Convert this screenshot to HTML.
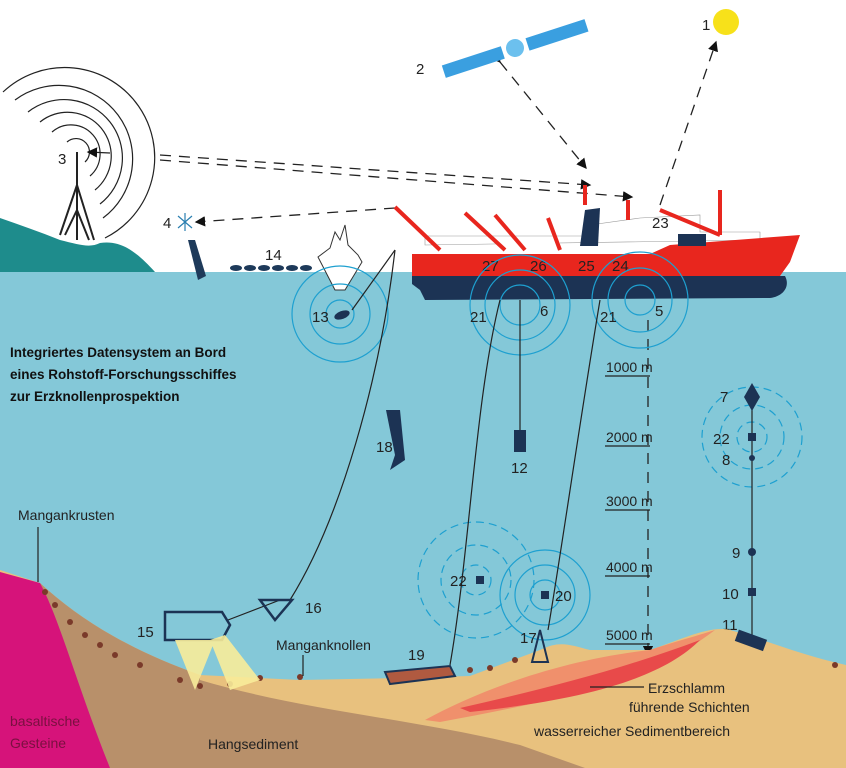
<!DOCTYPE html>
<html><head><meta charset="utf-8"><style>
html,body{margin:0;padding:0;background:#fff;}
svg{display:block;font-family:"Liberation Sans",sans-serif;}
</style></head><body>
<svg width="846" height="768" viewBox="0 0 846 768" xmlns="http://www.w3.org/2000/svg">
<defs>
<marker id="ah" markerWidth="8" markerHeight="8" refX="7" refY="4" orient="auto"><path d="M0,0 L8,4 L0,8 z" fill="#111"/></marker>
</defs>
<rect width="846" height="768" fill="#fff"/>
<rect x="0" y="272" width="846" height="496" fill="#84c8d8"/>
<path d="M0,218 C20,225 40,232 60,240 C80,245 90,248 100,243 C120,240 135,250 155,272 L0,272 Z" fill="#1e8c8c"/>
<g fill="none" stroke="#222" stroke-width="1.2">
<path d="M77,152 L77,240 M77,185 L60,235 M77,185 L94,240 M77,210 L65,235 M77,210 L89,240" stroke-width="2"/>
<path d="M67,142 A12,12 0 1 1 85,162"/>
<path d="M52,132 A27,27 0 1 1 90,176"/>
<path d="M40,122 A42,42 0 1 1 95,190"/>
<path d="M28,112 A57,57 0 1 1 100,204"/>
<path d="M15,100 A72,72 0 1 1 103,218"/>
<path d="M3,92 A90,90 0 1 1 105,238"/>
</g>
<text x="58" y="164" font-size="15" fill="#222">3</text>
<g stroke="#222" stroke-width="1.3" fill="none" stroke-dasharray="11,8">
<line x1="160" y1="155" x2="590" y2="185" marker-end="url(#ah)"/>
<line x1="160" y1="160" x2="632" y2="197" marker-end="url(#ah)"/>
<line x1="395" y1="208" x2="196" y2="222" marker-end="url(#ah)"/>
<line x1="660" y1="205" x2="716" y2="42" marker-end="url(#ah)"/>
<line x1="648" y1="320" x2="648" y2="655" marker-end="url(#ah)"/>
</g>
<line x1="500" y1="62" x2="586" y2="168" stroke="#222" stroke-width="1.3" stroke-dasharray="11,8" marker-end="url(#ah)" marker-start="url(#ah)"/>
<line x1="110" y1="153" x2="88" y2="152" stroke="#222" stroke-width="1.3" marker-end="url(#ah)"/>
<circle cx="726" cy="22" r="13" fill="#f7e11a"/>
<text x="702" y="30" font-size="15" fill="#222">1</text>
<g transform="rotate(-18 515 48)">
<rect x="440" y="42" width="62" height="13" fill="#3a9fe0"/>
<rect x="528" y="42" width="62" height="13" fill="#3a9fe0"/>
<circle cx="515" cy="48" r="9" fill="#6cc0ee"/>
</g>
<text x="416" y="74" font-size="15" fill="#222">2</text>
<text x="163" y="228" font-size="15" fill="#222">4</text>
<g stroke="#2a7fb0" stroke-width="1.2"><line x1="178" y1="216" x2="192" y2="228"/><line x1="192" y1="216" x2="178" y2="228"/><line x1="185" y1="213" x2="185" y2="231"/></g>
<path d="M188,240 L195,240 L206,276 L198,280 Z" fill="#1e3a5a"/>
<text x="265" y="260" font-size="15" fill="#222">14</text>
<g fill="#1e3a5a"><ellipse cx="236" cy="268" rx="6" ry="3"/><ellipse cx="250" cy="268" rx="6" ry="3"/><ellipse cx="264" cy="268" rx="6" ry="3"/><ellipse cx="278" cy="268" rx="6" ry="3"/><ellipse cx="292" cy="268" rx="6" ry="3"/><ellipse cx="306" cy="268" rx="6" ry="3"/></g>
<path d="M318,257 L330,248 L335,232 L340,240 L345,225 L348,245 L358,255 L362,262 L345,290 L335,290 Z" fill="#fff" stroke="#333" stroke-width="1"/>
<!-- ship -->
<path d="M425,236 L590,236 L590,225 L640,218 L700,215 L700,232 L760,232 L760,240 L425,245 Z" fill="#fff" stroke="#999" stroke-width="0.6"/>
<path d="M500,240 L560,238 L560,254 L500,254 Z" fill="#fff"/>
<path d="M412,254 L650,254 L670,245 L800,235 L790,262 L780,276 L412,276 Z" fill="#e8261e"/>
<path d="M412,276 L785,276 C790,285 785,296 770,298 L425,300 L420,290 L412,284 Z" fill="#1c3354"/>
<path d="M580,246 L585,210 L600,208 L598,246 Z" fill="#1c3354"/>
<rect x="678" y="234" width="28" height="12" fill="#1c3354"/>
<g stroke="#e8261e" stroke-width="4" fill="none">
<line x1="395" y1="207" x2="440" y2="250"/>
<line x1="465" y1="213" x2="505" y2="250"/>
<line x1="495" y1="215" x2="525" y2="250"/>
<line x1="548" y1="218" x2="560" y2="250"/>
<line x1="628" y1="200" x2="628" y2="220"/>
<line x1="720" y1="190" x2="720" y2="235"/>
<line x1="660" y1="210" x2="720" y2="235"/>
<line x1="585" y1="185" x2="585" y2="205"/>
</g>
<g font-size="15" fill="#222">
<text x="482" y="271">27</text><text x="530" y="271">26</text><text x="578" y="271">25</text><text x="612" y="271">24</text><text x="652" y="228">23</text>
</g>
<g fill="none" stroke="#1ea0d0" stroke-width="1.2">
<circle cx="340" cy="314" r="14"/><circle cx="340" cy="314" r="30"/><circle cx="340" cy="314" r="48"/>
<circle cx="520" cy="305" r="20"/><circle cx="520" cy="305" r="35"/><circle cx="520" cy="305" r="50"/>
<circle cx="640" cy="300" r="15"/><circle cx="640" cy="300" r="32"/><circle cx="640" cy="300" r="48"/>
<circle cx="545" cy="595" r="15"/><circle cx="545" cy="595" r="30"/><circle cx="545" cy="595" r="45"/>
</g>
<g fill="none" stroke="#1ea0d0" stroke-width="1.2" stroke-dasharray="8,5">
<circle cx="476" cy="580" r="15"/><circle cx="476" cy="580" r="35"/><circle cx="476" cy="580" r="58"/>
<circle cx="752" cy="437" r="15"/><circle cx="752" cy="437" r="32"/><circle cx="752" cy="437" r="50"/>
</g>
<ellipse cx="342" cy="315" rx="8" ry="4" fill="#1c3354" transform="rotate(-20 342 315)"/>
<text x="312" y="322" font-size="15" fill="#222">13</text>
<g font-size="15" fill="#222"><text x="470" y="322">21</text><text x="540" y="316">6</text><text x="600" y="322">21</text><text x="655" y="316">5</text></g>
<g fill="none" stroke="#222" stroke-width="1.2">
<line x1="352" y1="310" x2="395" y2="250"/>
<path d="M395,250 C380,380 340,520 290,600"/>
<path d="M500,300 C475,400 470,550 450,665"/>
<line x1="520" y1="300" x2="520" y2="430"/>
<path d="M600,300 C580,420 560,560 548,630"/>
<line x1="752" y1="395" x2="752" y2="636"/>
<line x1="280" y1="600" x2="228" y2="620"/>
</g>
<g font-size="13.5" font-weight="bold" fill="#111">
<text x="10" y="357">Integriertes Datensystem an Bord</text>
<text x="10" y="379">eines Rohstoff-Forschungsschiffes</text>
<text x="10" y="401">zur Erzknollenprospektion</text>
</g>
<g stroke="#222" stroke-width="1.3"><line x1="605" y1="376" x2="650" y2="376"/><line x1="605" y1="446" x2="650" y2="446"/><line x1="605" y1="510" x2="650" y2="510"/><line x1="605" y1="576" x2="650" y2="576"/><line x1="605" y1="644" x2="650" y2="644"/></g>
<g font-size="14" fill="#222"><text x="606" y="372">1000 m</text><text x="606" y="442">2000 m</text><text x="606" y="506">3000 m</text><text x="606" y="572">4000 m</text><text x="606" y="640">5000 m</text></g>
<path d="M386,410 L400,410 L405,460 L390,470 L395,455 Z" fill="#1c3354"/>
<text x="376" y="452" font-size="15" fill="#222">18</text>
<rect x="514" y="430" width="12" height="22" fill="#1c3354"/>
<text x="511" y="473" font-size="15" fill="#222">12</text>
<g fill="#1c3354"><path d="M752,383 L760,397 L752,411 L744,397 Z"/><rect x="748" y="433" width="8" height="8"/><circle cx="752" cy="458" r="3"/><circle cx="752" cy="552" r="4"/><rect x="748" y="588" width="8" height="8"/><rect x="476" y="576" width="8" height="8"/><rect x="541" y="591" width="8" height="8"/></g>
<g font-size="15" fill="#222"><text x="720" y="402">7</text><text x="713" y="444">22</text><text x="722" y="465">8</text><text x="732" y="558">9</text><text x="722" y="599">10</text><text x="722" y="630">11</text><text x="450" y="586">22</text><text x="555" y="601">20</text><text x="520" y="643">17</text><text x="305" y="613">16</text><text x="137" y="637">15</text><text x="408" y="660">19</text></g>
<path d="M0,570 L40,583 C80,620 130,650 200,675 L300,680 L400,678 L470,676 L540,650 C560,640 570,645 590,650 L650,650 C680,640 710,625 730,630 C760,638 800,655 846,665 L846,768 L0,768 Z" fill="#e8c17e"/>
<path d="M40,583 C80,620 130,650 200,675 L200,680 C300,710 420,720 520,745 L585,768 L100,768 Z" fill="#b8906a"/>
<path d="M0,572 L40,583 C60,620 75,680 110,768 L0,768 Z" fill="#d6137a"/>
<path d="M425,720 C480,690 560,660 650,650 C680,640 700,635 715,630 C650,680 560,700 440,722 Z" fill="#f0906c"/>
<path d="M460,708 C540,690 620,670 700,640 C660,680 580,700 470,712 Z" fill="#e84a4a"/>
<g fill="#7a3a2a"><circle cx="45" cy="592" r="3"/><circle cx="55" cy="605" r="3"/><circle cx="70" cy="622" r="3"/><circle cx="85" cy="635" r="3"/><circle cx="100" cy="645" r="3"/><circle cx="115" cy="655" r="3"/><circle cx="140" cy="665" r="3"/><circle cx="180" cy="680" r="3"/><circle cx="200" cy="686" r="3"/><circle cx="230" cy="684" r="3"/><circle cx="260" cy="678" r="3"/><circle cx="300" cy="677" r="3"/><circle cx="470" cy="670" r="3"/><circle cx="490" cy="668" r="3"/><circle cx="515" cy="660" r="3"/><circle cx="835" cy="665" r="3"/></g>
<path d="M165,612 L222,612 L230,625 L222,640 L165,640 Z" fill="none" stroke="#1c3354" stroke-width="2.5"/>
<path d="M175,640 L195,690 L215,640 Z M210,640 L230,690 L260,680 L225,635 Z" fill="#f8ec9a" opacity="0.9"/>
<path d="M385,672 L450,666 L455,676 L390,684 Z" fill="#b05a40" stroke="#1c3354" stroke-width="2"/>
<path d="M260,600 L292,600 L275,620 Z" fill="none" stroke="#1c3354" stroke-width="2.5"/>
<path d="M540,630 L548,662 L532,662 Z" fill="none" stroke="#1c3354" stroke-width="2"/>
<rect x="736" y="634" width="30" height="12" fill="#1c3354" transform="rotate(20 750 640)"/>
<g fill="#222" font-size="14">
<text x="18" y="520">Mangankrusten</text>
<text x="276" y="650">Manganknollen</text>
<text x="648" y="693">Erzschlamm</text>
<text x="629" y="712">führende Schichten</text>
<text x="534" y="736">wasserreicher Sedimentbereich</text>
<text x="208" y="749">Hangsediment</text>
</g>
<g fill="#7a1040" font-size="14"><text x="10" y="726">basaltische</text><text x="10" y="748">Gesteine</text></g>
<g stroke="#222" stroke-width="1.2"><line x1="38" y1="527" x2="38" y2="582"/><line x1="303" y1="655" x2="303" y2="676"/><line x1="590" y1="687" x2="644" y2="687"/></g>
</svg>
</body></html>
